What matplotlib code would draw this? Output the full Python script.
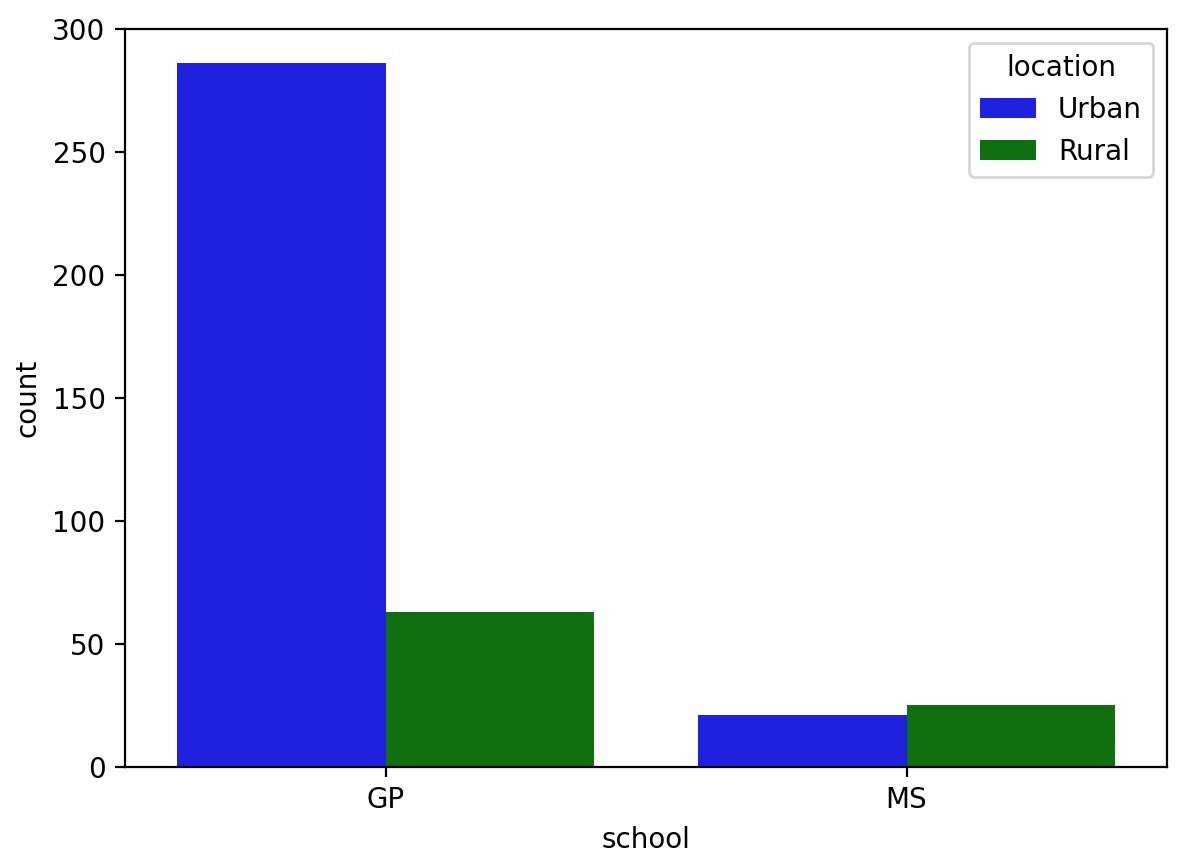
import matplotlib
matplotlib.use("Agg")
import matplotlib.pyplot as plt
import seaborn as sns
import pandas as pd

schools = ["GP", "GP", "MS", "MS"]
locations = ["Urban", "Rural", "Urban", "Rural"]
counts = [286, 63, 21, 25]

df = pd.DataFrame({"school": schools, "location": locations, "count": counts})
fig, ax = plt.subplots(figsize=(5.93, 4.34), dpi=200)
sns.barplot(data=df, x="school", y="count", hue="location",
            palette=["blue", "green"], saturation=0.75, ax=ax)
ax.set_ylim(0, 300)
fig.subplots_adjust(left=0.1054, right=0.984, top=0.9666, bottom=0.1164)
fig.savefig("out.png", dpi=200)
